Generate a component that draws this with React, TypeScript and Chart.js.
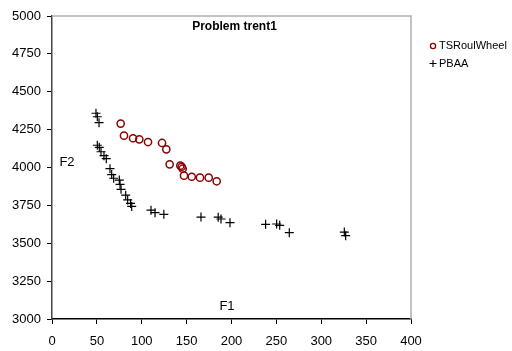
import React, { useEffect, useRef } from "react";
import { Chart, registerables } from "chart.js";

Chart.register(...registerables);

const TITLE = "Problem trent1";
const X_LABEL = "F1";
const Y_LABEL = "F2";

const tsX = [76.5, 80.2, 90.3, 97.3, 107, 122.6, 127.4, 131.1, 143, 144.5, 145.6, 147.1, 155.7, 164.9, 174.6, 183.5];
const tsY = [4290, 4210, 4193, 4186, 4168, 4162, 4120, 4021, 4012, 4005, 3992, 3946, 3939, 3933, 3933, 3909];

const pbX = [49, 50.5, 52.4, 50.5, 52.7, 54.6, 57.9, 60.5, 64.6, 66.5, 68.7, 75, 75.8, 76.9, 82.1, 84.3, 87.5, 88.8, 110.3, 114.8, 124.6, 166, 185.2, 188.3, 198.3, 238, 250.3, 253.7, 264.4, 325.7, 327.2];
const pbY = [4358, 4335, 4296, 4147, 4133, 4104, 4078, 4058, 3992, 3953, 3929, 3917, 3889, 3856, 3817, 3786, 3763, 3743, 3718, 3702, 3691, 3673, 3672, 3660, 3636, 3625, 3627, 3618, 3570, 3574, 3550];

const SERIES = ["TSRoulWheel", "PBAA"];
const FONT = "'Liberation Sans', Arial, sans-serif";

export default function App() {
  const ref = useRef<HTMLCanvasElement>(null);
  useEffect(() => {
    if (!ref.current) return;
    const decor = {
      id: "decor",
      afterDraw(chart: any) {
        const ctx = chart.ctx;
        const a = chart.chartArea;
        ctx.save();
        ctx.strokeStyle = "#b0b0b0";
        ctx.lineWidth = 1.5;
        ctx.beginPath();
        ctx.moveTo(a.left, a.top);
        ctx.lineTo(a.right, a.top);
        ctx.lineTo(a.right, a.bottom);
        ctx.stroke();
        ctx.fillStyle = "#000";
        ctx.textAlign = "center";
        ctx.textBaseline = "middle";
        ctx.font = `bold 12px ${FONT}`;
        ctx.fillText(TITLE, (a.left + a.right) / 2 + 3, 27);
        ctx.font = `13px ${FONT}`;
        ctx.fillText(Y_LABEL, 67, 162);
        ctx.fillText(X_LABEL, 227, 306);
        // legend
        ctx.font = `11px ${FONT}`;
        ctx.textAlign = "left";
        ctx.strokeStyle = "#8b0000";
        ctx.lineWidth = 1.3;
        ctx.beginPath();
        ctx.arc(433, 46, 2.6, 0, Math.PI * 2);
        ctx.stroke();
        ctx.fillText(SERIES[0], 439, 46);
        ctx.strokeStyle = "#000";
        ctx.lineWidth = 1.1;
        ctx.beginPath();
        ctx.moveTo(429.5, 63.5);
        ctx.lineTo(436.5, 63.5);
        ctx.moveTo(433, 60);
        ctx.lineTo(433, 67);
        ctx.stroke();
        ctx.fillText(SERIES[1], 439, 63.5);
        ctx.restore();
      },
    };
    const chart = new Chart(ref.current, {
      type: "scatter",
      data: {
        datasets: [
          {
            label: SERIES[0],
            data: tsX.map((x, i) => ({ x, y: tsY[i] })),
            pointStyle: "circle",
            pointRadius: 3.6,
            borderColor: "#8b0000",
            backgroundColor: "rgba(0,0,0,0)",
            borderWidth: 1.5,
          },
          {
            label: SERIES[1],
            data: pbX.map((x, i) => ({ x, y: pbY[i] })),
            pointStyle: "cross",
            pointRadius: 4.5,
            borderColor: "#000",
            backgroundColor: "#000",
            borderWidth: 1.2,
          },
        ],
      },
      options: {
        responsive: false,
        animation: false,
        layout: { padding: { top: 16, right: 101, left: 0, bottom: 0 } },
        plugins: { legend: { display: false }, title: { display: false }, tooltip: { enabled: false } },
        scales: {
          x: {
            type: "linear",
            min: 0,
            max: 400,
            ticks: { stepSize: 50, color: "#000", font: { family: FONT, size: 13 }, padding: 10, maxRotation: 0, callback: (v: any) => String(v) },
            grid: { drawOnChartArea: false, drawTicks: true, tickLength: 5, color: "#000" },
            border: { display: true, color: "#000", width: 1.5 },
            afterFit(s: any) { s.height = 32; },
          },
          y: {
            type: "linear",
            min: 3000,
            max: 5000,
            ticks: { stepSize: 250, color: "#000", font: { family: FONT, size: 13 }, padding: 6, callback: (v: any) => String(v) },
            grid: { drawOnChartArea: false, drawTicks: true, tickLength: 5, color: "#000" },
            border: { display: true, color: "#444", width: 1.5 },
            afterFit(s: any) { s.width = 52; },
          },
        },
      },
      plugins: [decor],
    });
    return () => chart.destroy();
  }, []);
  return (
    <div style={{ position: "absolute", left: 0, top: 0, width: 512, height: 351, background: "#fff" }}>
      <canvas ref={ref} width={512} height={351} />
    </div>
  );
}
